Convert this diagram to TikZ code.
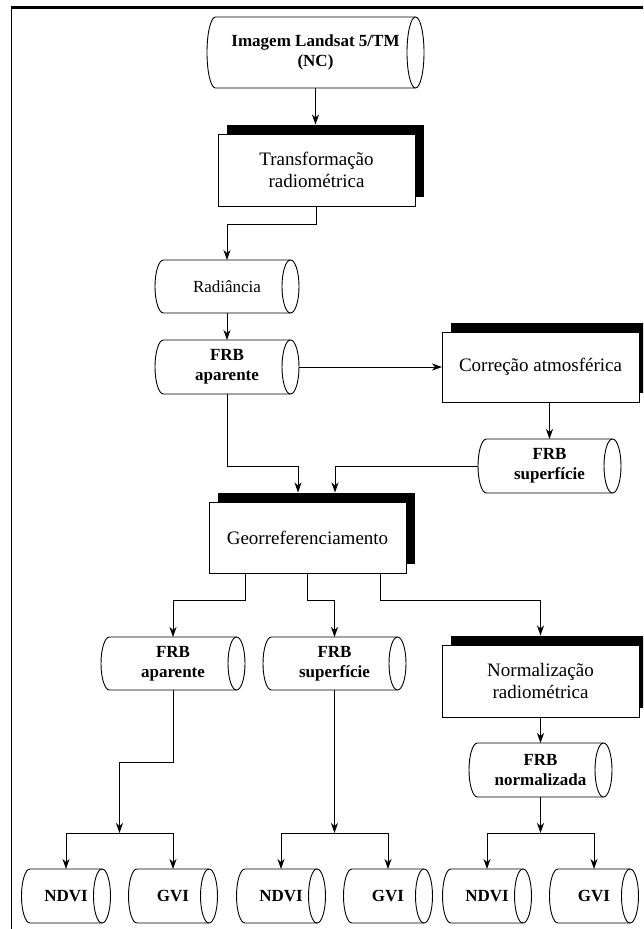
\documentclass[tikz,border=0pt]{standalone}
\usepackage{fontspec}
\setmainfont{Liberation Serif}
\usetikzlibrary{arrows.meta,calc}
\tikzset{
  ln/.style={line width=0.9pt},
  arr/.style={ln,-{Stealth[length=10pt,width=7pt,inset=3pt]}},
  cylnode/.style={rectangle,inner sep=0pt,outer sep=0pt,align=center},
  boldtxt/.style={font=\fontsize{17}{20}\selectfont\bfseries},
  plaintxt/.style={font=\fontsize{17}{20}\selectfont},
  procbox/.style={rectangle,draw,ln,fill=white,inner sep=0pt,outer sep=0pt,align=center,
    font=\fontsize{19}{22}\selectfont},
  shadowrect/.style={rectangle,fill=black,inner sep=0pt,outer sep=0pt},
}
% name, cx, cy (image y, downward), w, h, text style, text
\newcommand\mycyl[7]{%
  \node[cylnode,#6,minimum width=#4pt,minimum height=#5pt] (#1) at (#2,-#3) {#7};
  \draw[ln] ([xshift=8.5pt]#1.north west) -- ([xshift=-8.5pt]#1.north east)
    arc[start angle=90,end angle=-90,x radius=8.5pt,y radius=#5pt/2]
    -- ([xshift=8.5pt]#1.south west)
    arc[start angle=270,end angle=90,x radius=8.5pt,y radius=#5pt/2] -- cycle;
  \draw[ln] ([xshift=-8.5pt]#1.north east)
    arc[start angle=90,end angle=270,x radius=8.5pt,y radius=#5pt/2];
}
% name, cx, cy, w, h, text
\newcommand\mybox[6]{%
  \node[shadowrect,minimum width=#4pt,minimum height=#5pt] (#1S) at (#2+8.5,-#3+9.5) {};
  \node[procbox,minimum width=#4pt,minimum height=#5pt] (#1) at (#2,-#3) {#6};
}
\begin{document}
\begin{tikzpicture}[x=1pt,y=1pt]
\useasboundingbox (0,0) rectangle (643,-929);
\clip (0,0) rectangle (643,-929);
% frame
\draw[line width=2.5pt] (10.5,-7.5) -- (650,-7.5);
\draw[line width=1pt] (11.5,-7.5) -- (11.5,-935);

% nodes
\mycyl{img}{315.5}{52.5}{217}{71}{boldtxt}{Imagem Landsat 5/TM\\(NC)}
\mybox{t}{316.5}{170}{197}{72}{Transformação\\radiométrica}
\mycyl{rad}{227}{286.5}{144}{53}{plaintxt}{Radiância}
\mycyl{frbA}{227}{367}{144}{54}{boldtxt}{FRB\\aparente}
\mybox{corr}{540.5}{367}{197}{70}{Correção atmosférica}
\mycyl{frbS}{549.5}{466}{143}{54}{boldtxt}{FRB\\superfície}
\mybox{geo}{307.5}{537.5}{197}{71}{Georreferenciamento}
\mycyl{frbA2}{173}{663.5}{144}{53}{boldtxt}{FRB\\aparente}
\mycyl{frbS2}{334.5}{663.5}{143}{53}{boldtxt}{FRB\\superfície}
\mybox{norm}{540.5}{681}{197}{72}{Normalização\\radiométrica}
\mycyl{frbN}{540.5}{770}{143}{54}{boldtxt}{FRB\\normalizada}
\mycyl{n1}{66}{896}{89}{54}{boldtxt}{NDVI}
\mycyl{v1}{173}{896}{89}{54}{boldtxt}{GVI}
\mycyl{n2}{281}{896}{89}{54}{boldtxt}{NDVI}
\mycyl{v2}{388}{896}{89}{54}{boldtxt}{GVI}
\mycyl{n3}{487}{896}{89}{54}{boldtxt}{NDVI}
\mycyl{v3}{594}{896}{89}{54}{boldtxt}{GVI}

% bend points
\coordinate (j1) at (227,-224);
\coordinate (j2) at (298,-466);
\coordinate (j3) at (335,-466);
\coordinate (g1) at (245,-600);
\coordinate (g2) at (307,-600);
\coordinate (g3) at (380,-600);
\coordinate (k1) at (119.5,-762);
\coordinate (b1) at (119.5,-833);
\coordinate (b2) at (334.5,-833);
\coordinate (b3) at (540.5,-833);

% connectors
\draw[arr] (img.south) -- (img.south |- tS.north);
\draw[arr] (t.south) |- (j1) -- (rad.north);
\draw[arr] (rad.south) -- (frbA.north);
\draw[arr] (frbA.east) -- (corr.west);
\draw[arr] (frbS.north |- corr.south) -- (frbS.north);
\draw[arr] (frbA.south) |- (j2) -- (j2 |- geoS.north);
\draw[arr] (frbS.west) -- (j3) -- (j3 |- geoS.north);
\draw[arr] (geo.south -| g1) -- (g1) -| (frbA2.north);
\draw[arr] (geo.south -| g2) -- (g2) -| (frbS2.north);
\draw[arr] (geo.south -| g3) -- (g3) -| (norm.north |- normS.north);
\draw[arr] (norm.south) -- (frbN.north);

\draw[arr] (frbA2.south) |- (k1) -- (b1);
\draw[ln] (n1.north |- b1) -- (v1.north |- b1);
\draw[arr] (n1.north |- b1) -- (n1.north);
\draw[arr] (v1.north |- b1) -- (v1.north);

\draw[arr] (frbS2.south) -- (b2);
\draw[ln] (n2.north |- b2) -- (v2.north |- b2);
\draw[arr] (n2.north |- b2) -- (n2.north);
\draw[arr] (v2.north |- b2) -- (v2.north);

\draw[arr] (frbN.south) -- (b3);
\draw[ln] (n3.north |- b3) -- (v3.north |- b3);
\draw[arr] (n3.north |- b3) -- (n3.north);
\draw[arr] (v3.north |- b3) -- (v3.north);
\end{tikzpicture}
\end{document}
